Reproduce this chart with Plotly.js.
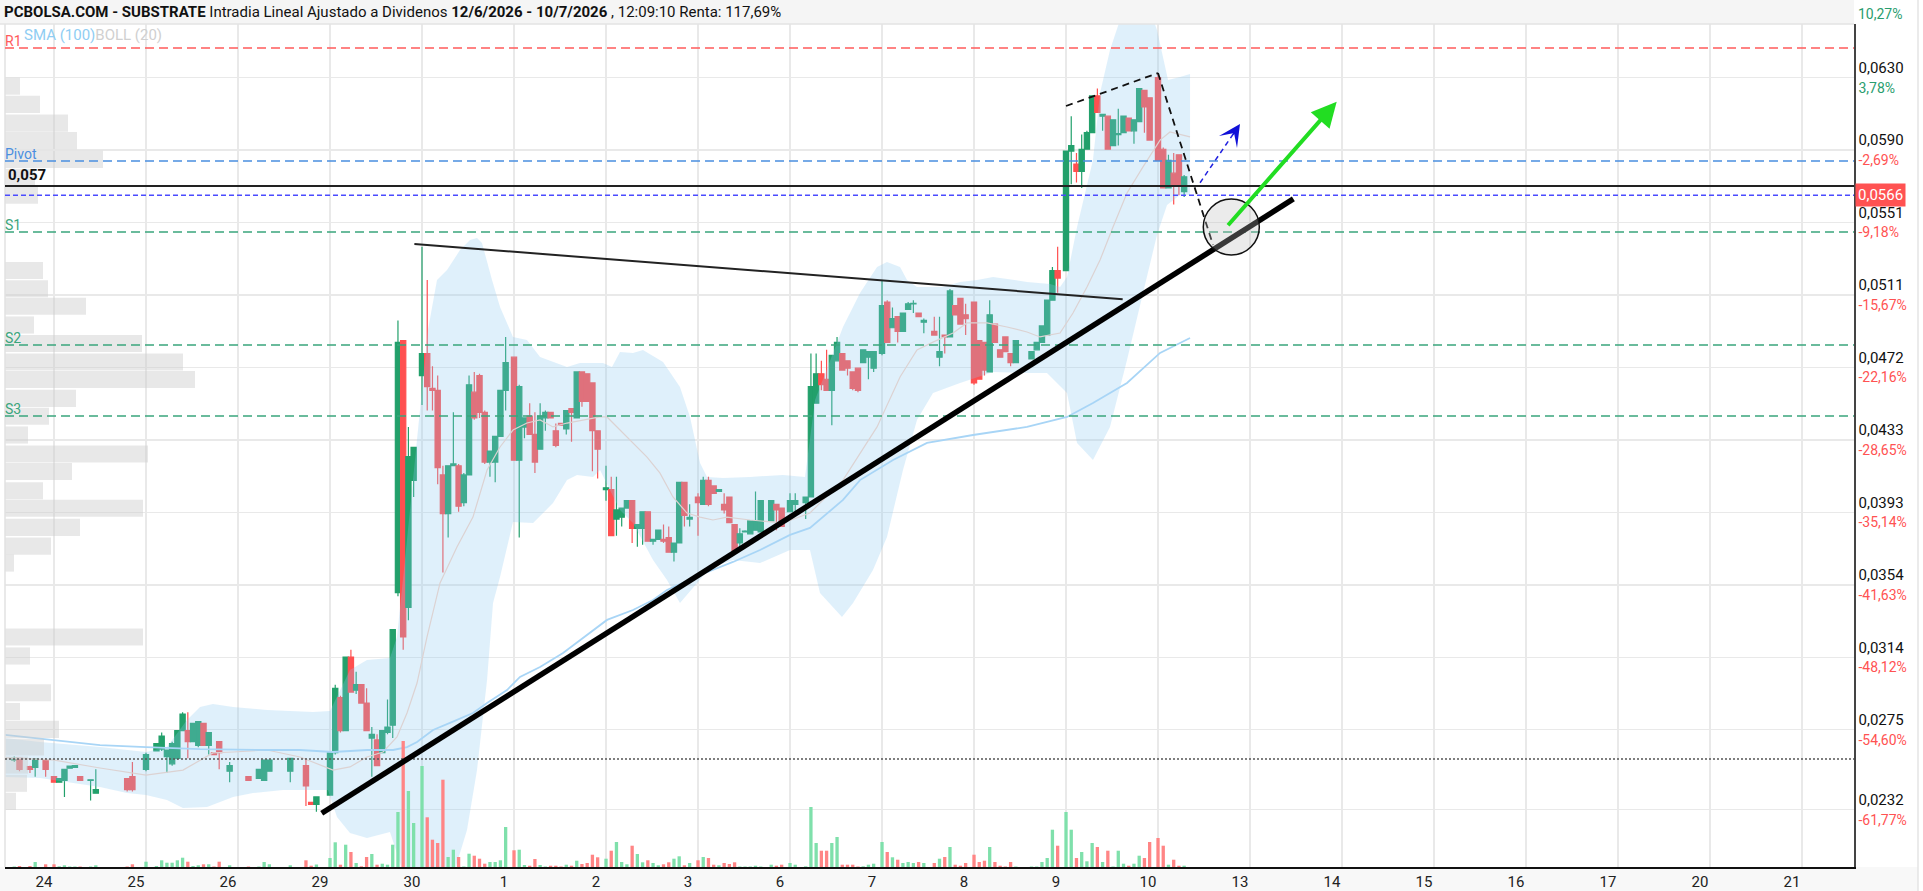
<!DOCTYPE html>
<html><head><meta charset="utf-8">
<script src="https://cdn.plot.ly/plotly-3.0.1.min.js"></script>
<style>html,body{margin:0;padding:0;background:#fff;}#chart{width:1923px;height:891px;}</style>
</head><body><div id="chart"></div>
<script>
// ---------------- DATA ----------------
const sessionDays = ['23','24','25','26','29','30','1','2','3','6','7','8','9','10'];
const axisDays = ['24','25','26','29','30','1','2','3','6','7','8','9','10','13','14','15','16','17','20','21'];
const SLOTS_PER_DAY = 17.6;

const barDay = [
 '23','23','23','23','23',
 '24','24','24','24','24','24','24','24','24','24',
 '25','25','25','25','25','25','25','25','25','25','25','25','25','25','25',
 '26','26','26','26','26','26','26','26',
 '29','29','29','29','29','29','29','29','29','29','29','29','29','29','29','29','29',
 '30','30','30','30','30','30','30','30','30','30','30','30','30','30','30','30','30',
 '1','1','1','1','1','1','1','1','1','1','1','1','1','1','1','1','1',
 '2','2','2','2','2','2','2','2','2','2','2','2','2','2','2','2','2',
 '3','3','3','3','3','3','3','3','3','3','3','3','3','3','3','3',
 '6','6','6','6','6','6','6','6','6','6','6','6','6','6','6','6',
 '7','7','7','7','7','7','7','7','7','7','7','7','7','7','7','7',
 '8','8','8','8','8','8','8','8','8','8','8','8','8','8','8',
 '9','9','9','9','9','9','9','9','9','9','9','9','9','9','9','9','9',
 '10','10','10','10','10','10'];
const barSlot = [
 10,11,13,14,16,
 0,1,2,3,4,5,7,8,14,15,
 0,2,3,4,5,6,7,8,9,10,11,12,13,14,16,
 2,4,5,6,10,13,14,15,
 0,1,2,3,4,5,6,7,8,9,10,11,12,13,14,15,16,
 0,1,2,3,4,5,6,7,8,9,10,11,12,13,14,15,16,
 0,1,2,3,4,5,6,7,8,9,10,11,12,13,14,15,16,
 0,1,2,3,4,5,6,7,8,9,10,11,12,13,14,15,16,
 0,1,2,3,4,5,6,7,8,9,10,11,12,14,15,16,
 0,1,3,4,5,6,7,8,9,10,11,12,13,14,15,16,
 0,1,2,3,4,5,6,7,8,10,11,12,13,14,15,16,
 0,1,2,3,4,5,6,7,8,11,12,13,14,15,16,
 0,1,2,3,4,5,6,7,8,9,10,11,12,13,14,15,16,
 0,1,2,3,4,5];
const barOpen = [
 .0259,.0260,.02555,.0255,.0259,
 .0250,.0247,.0248,.02546,.0255,.0250,.0248,.0241,.0249,.0250,
 .0254,.0264,.0265,.02609,.0257,.0260,.0275,.0275,.0269,.0267,.0279,.0267,.0263,.0269,.0253,
 .0250,.0249,.0248,.0253,.0253,.0256,.0236,.0235,
 .0240,.0263,.0293,.0275,.0315,.0297,.0300,.0290,.0271,.0270,.0263,.0274,.0278,.0350,.0487,.0342,.0411,
 .0468,.0480,.0461,.0460,.0414,.0393,.0419,.0419,.0399,.0414,.0459,.0468,.0448,.0421,.0421,.0435,.0460,
 .0478,.0422,.0440,.0446,.0436,.0428,.0445,.0448,.0438,.0442,.0439,.0450,.0445,.0470,.0469,.0464,.0438,
 .0406,.0406,.0390,.0391,.0396,.0400,.0385,.0385,.0394,.0378,.0379,.0379,.0380,.0372,.0377,.0410,.0390,
 .0402,.0398,.0411,.0408,.0405,.0398,.0402,.0387,.0377,.0383,.0382,.0384,.0383,.0389,.0398,.0396,
 .0394,.0398,.0399,.0402,.0453,.0469,.0466,.0460,.0476,.0480,.0476,.0470,.0472,.0475,.0478,.0472,
 .0480,.0508,.0494,.0500,.0492,.0504,.0507,.0502,.0497,.0492,.0478,.0490,.0489,.0506,.0510,.0501,
 .0508,.0487,.0486,.0470,.0496,.0482,.0489,.0480,.0475,.0477,.0482,.0486,.0490,.0509,.0525,
 .0525,.0590,.0583,.0579,.0591,.0600,.0620,.0609,.0609,.0593,.0599,.0600,.0608,.0601,.0606,.0623,.0619,
 .0630,.0591,.0570,.0578,.0588,.0568];
const barHigh = [
 .0261,.0260,.0256,.0260,.0260,
 .0250,.0249,.0254,.0256,.0256,.0250,.0248,.0254,.0249,.0258,
 .0263,.0268,.0274,.02645,.0269,.0275,.0285,.0285,.0279,.0280,.0279,.0274,.0263,.0269,.0258,
 .0250,.0254,.0259,.0259,.0260,.0260,.0236,.0239,
 .0263,.0300,.0294,.0315,.0319,.0307,.0300,.0298,.0277,.0273,.0275,.0292,.0330,.0498,.0487,.0440,.0429,
 .0538,.0520,.0473,.0468,.0419,.0419,.0448,.0420,.0415,.0468,.0470,.0469,.0449,.0427,.0435,.0460,.0489,
 .0478,.0463,.0445,.0453,.0448,.0453,.0449,.0448,.0442,.0442,.0449,.0450,.0470,.0470,.0469,.0464,.0438,
 .0419,.0413,.0413,.0396,.0400,.0400,.0387,.0394,.0394,.0379,.0384,.0387,.0386,.0377,.0410,.0410,.0398,
 .0404,.0413,.0413,.0408,.0406,.0404,.0402,.0387,.0385,.0384,.0389,.0405,.0400,.0400,.0398,.0396,
 .0404,.0404,.0402,.0480,.0480,.0476,.0482,.0479,.0489,.0480,.0476,.0470,.0472,.0482,.0481,.0481,
 .0520,.0509,.0505,.0500,.0502,.0508,.0509,.0502,.0499,.0500,.0500,.0490,.0515,.0506,.0510,.0507,
 .0508,.0487,.0486,.0509,.0496,.0482,.0489,.0480,.0487,.0481,.0486,.0495,.0509,.0527,.0538,
 .0590,.0609,.0589,.0599,.0601,.0620,.0624,.0610,.0609,.0607,.0613,.0609,.0608,.0607,.0624,.0623,.0619,
 .0632,.0592,.0588,.0589,.0588,.0577];
const barLow = [
 .0258,.0253,.0252,.0250,.0250,
 .0247,.0247,.0239,.02546,.0255,.0248,.0237,.0241,.0242,.0242,
 .0253,.0264,.0264,.0252,.0256,.0259,.0275,.0260,.0269,.0266,.0267,.0262,.0262,.0254,.0247,
 .0248,.0249,.0248,.0253,.0247,.0234,.0235,.0231,
 .0240,.0262,.0274,.0275,.0296,.0295,.0290,.0275,.0250,.0256,.0263,.0273,.0271,.0348,.0319,.0335,.0402,
 .0452,.0449,.0449,.0409,.0361,.0380,.0419,.0394,.0397,.0414,.0444,.0445,.0420,.0413,.0410,.0435,.0449,
 .0422,.0380,.0434,.0436,.0415,.0428,.0438,.0445,.0429,.0441,.0436,.0432,.0445,.0451,.0454,.0416,.0412,
 .0400,.0381,.0381,.0386,.0396,.0377,.0375,.0376,.0378,.0376,.0379,.0377,.0372,.0367,.0377,.0386,.0386,
 .0381,.0398,.0397,.0404,.0405,.0393,.0388,.0373,.0374,.0383,.0382,.0384,.0383,.0389,.0384,.0386,
 .0394,.0394,.0390,.0402,.0453,.0460,.0460,.0441,.0476,.0471,.0468,.0460,.0459,.0475,.0466,.0470,
 .0479,.0486,.0494,.0486,.0492,.0504,.0502,.0500,.0491,.0490,.0473,.0480,.0489,.0501,.0496,.0490,
 .0463,.0466,.0468,.0470,.0486,.0478,.0481,.0473,.0475,.0477,.0482,.0486,.0490,.0509,.0513,
 .0525,.0572,.0573,.0570,.0591,.0600,.0611,.0601,.0591,.0593,.0593,.0600,.0601,.0594,.0606,.0600,.0596,
 .0585,.0570,.0570,.0561,.0566,.0565];
const barClose = [
 .0260,.0254,.0254,.02595,.0254,
 .0247,.0249,.0254,.02558,.0256,.0248,.02483,.0243,.0243,.0243,
 .0262,.0268,.0272,.02645,.0268,.0275,.0284,.0269,.0279,.0280,.0267,.0274,.0262,.0263,.0256,
 .0248,.0254,.0259,.0259,.0260,.0245,.0235,.0239,
 .0263,.0298,.0275,.0315,.0296,.0300,.0290,.0275,.0273,.0256,.0275,.0277,.0330,.0486,.0326,.0424,.0429,
 .0480,.0462,.0460,.0418,.0393,.0419,.0420,.0397,.0414,.0463,.0445,.0448,.0421,.0427,.0435,.0460,.0475,
 .0422,.0462,.0445,.0436,.0421,.0446,.0448,.0445,.0430,.0441,.0449,.0448,.0470,.0454,.0454,.0438,.0428,
 .0407,.0381,.0395,.0396,.0400,.0385,.0387,.0394,.0378,.0379,.0384,.0378,.0372,.0377,.0410,.0392,.0391,
 .0399,.0411,.0398,.0404,.0406,.0395,.0388,.0373,.0382,.03835,.0389,.0389,.0400,.0400,.0395,.0386,
 .0400,.0400,.0402,.0462,.0469,.0463,.0460,.0479,.0486,.0471,.0472,.0461,.0460,.0482,.0481,.0481,
 .0506,.0486,.0499,.0492,.0502,.0507,.05072,.0500,.0498,.0490,.0481,.0489,.0514,.0501,.0496,.0499,
 .0464,.0466,.0471,.0501,.0486,.0478,.0481,.0475,.0487,.0481,.0486,.0495,.0509,.0525,.0521,
 .0590,.0593,.0579,.0591,.0600,.0620,.0611,.0610,.0591,.0607,.05995,.0609,.0601,.0607,.0624,.0614,.0596,
 .0585,.0570,.0585,.0571,.0571,.0576];
// volume, thousands of shares
const barVolume = [
 5,10,10,50,27,
 27,7,17,5,5,5,5,17,5,27,
 53,10,67,43,43,67,93,53,10,17,27,27,5,53,17,
 5,5,50,27,17,67,13,25,
 90,247,23,223,150,40,7,100,130,23,33,23,223,550,1260,760,440,
 1010,497,273,240,873,100,173,100,5,133,113,83,33,50,50,67,400,
 167,173,20,13,80,20,5,13,13,5,23,13,63,30,40,123,97,
 83,163,250,50,27,213,130,47,67,40,17,27,47,83,107,17,40,
 67,100,90,23,17,40,30,47,5,5,5,13,5,23,13,23,
 40,23,7,600,240,163,163,240,300,23,23,23,5,7,23,33,
 250,150,97,73,40,50,40,50,40,40,83,100,200,23,13,40,
 123,50,63,200,50,13,5,50,5,5,5,50,90,373,213,
 550,373,90,150,57,240,200,50,163,5,163,33,13,33,113,90,250,
 290,213,23,73,13,13];

// Bollinger (20) upper / lower / middle and SMA(100): x in trading days from "24"
const bollUpperX = [-0.533,-0.152,0.5,1.0,1.228,1.446,1.587,1.728,1.946,2.315,2.815,3.0,3.217,3.402,3.652,3.728,3.815,3.946,4.065,4.163,4.272,4.413,4.522,4.598,4.652,4.761,4.848,4.989,5.141,5.283,5.576,5.717,5.967,6.065,6.152,6.293,6.402,6.62,6.804,6.913,7.022,7.098,7.272,7.565,7.924,8.163,8.272,8.576,8.761,8.946,9.054,9.196,9.272,9.38,9.663,9.848,10.033,10.207,10.424,10.576,10.826,10.935,11.011,11.12,11.293,11.37,11.478,11.587,11.75,11.913,11.989,12.054,12.109,12.239,12.348];
const bollUpper = [.0271,.02688,.02661,.02634,.02661,.02808,.02879,.02895,.02879,.02862,.02852,.02857,.0308,.03134,.03145,.03259,.03678,.04314,.04928,.05199,.05254,.05362,.05417,.05428,.05401,.05199,.05053,.0489,.04873,.04781,.04727,.04748,.04748,.04727,.04808,.04803,.04819,.04754,.04618,.04455,.04205,.04129,.04123,.04129,.0414,.04129,.04547,.04944,.05129,.0527,.05297,.0527,.05199,.05161,.05161,.05189,.05199,.05216,.05199,.05189,.05178,.05161,.05216,.05487,.05852,.06216,.06449,.06613,.06694,.06667,.06558,.06411,.06286,.06303,.06319];
const bollLowerX = [-0.533,-0.152,0.5,0.793,1.0,1.228,1.402,1.663,1.946,2.163,2.489,2.978,3.076,3.217,3.402,3.652,3.761,3.87,4.087,4.25,4.38,4.489,4.598,4.707,4.772,4.848,4.989,5.207,5.424,5.576,5.685,5.859,5.935,6.043,6.152,6.293,6.511,6.663,6.804,6.913,7.13,7.38,7.674,8.0,8.217,8.326,8.565,8.685,8.902,9.054,9.228,9.38,9.554,9.848,10.207,10.576,10.793,11.011,11.12,11.293,11.478,11.663,11.837,11.989,12.098,12.239,12.348];
const bollLower = [.02498,.02493,.02444,.02411,.024,.02373,.0233,.02335,.0239,.02411,.02428,.02428,.02281,.02194,.02167,.02199,.02031,.0183,.0156,.0172,.02031,.0221,.02536,.03025,.03444,.03585,.03884,.03879,.03987,.04112,.0414,.04129,.04167,.04058,.03949,.03879,.03678,.03569,.03444,.03504,.03634,.03678,.03661,.03732,.03732,.03498,.03368,.03444,.03623,.03803,.04167,.04439,.04585,.0464,.04699,.04694,.04694,.04585,.04314,.04221,.04401,.04765,.05129,.05444,.05607,.05661,.05661];
const bollMidX = [-0.533,-0.011,0.5,1.0,1.402,1.728,1.946,2.315,2.674,3.033,3.217,3.402,3.576,3.728,3.837,3.946,4.054,4.196,4.38,4.554,4.707,4.848,4.989,5.141,5.283,5.424,5.576,5.75,5.935,6.011,6.152,6.293,6.446,6.587,6.728,6.88,7.022,7.163,7.315,7.565,7.924,8.217,8.576,8.946,9.196,9.38,9.554,9.772,9.924,10.141,10.359,10.576,10.717,10.935,11.076,11.228,11.37,11.511,11.663,11.837,12.022,12.13,12.348];
const bollMid = [.02602,.02591,.02547,.02509,.02536,.02629,.02634,.02645,.02607,.02536,.02553,.02607,.02634,.02716,.02846,.03009,.03259,.03553,.03748,.03911,.04167,.04292,.04384,.04422,.04439,.04401,.04422,.04439,.04455,.04455,.04384,.04314,.04237,.0415,.0402,.03933,.03911,.03895,.03911,.03895,.03879,.03933,.04112,.04401,.04672,.04819,.04862,.04911,.04966,.04966,.04944,.04917,.0489,.04911,.0502,.05161,.05308,.05487,.05672,.05814,.0596,.06004,.05977];
const sma100X = [-0.533,-0.011,0.5,1.0,1.587,2.315,2.674,3.033,3.402,3.685,3.837,3.946,4.12,4.304,4.554,4.707,4.924,5.065,5.283,5.533,5.717,6.011,6.293,6.511,6.663,7.022,7.38,7.674,8.0,8.217,8.576,8.761,9.12,9.489,9.989,10.576,11.011,11.293,11.663,12.022,12.348];
const sma100 = [.02727,.02699,.02672,.02661,.0265,.02645,.02645,.02634,.02645,.02645,.02661,.02688,.02754,.02792,.02846,.029,.02971,.03042,.03096,.03172,.03243,.03352,.03406,.0346,.03515,.03596,.03667,.03732,.03814,.03852,.04004,.04112,.04221,.04314,.04357,.04401,.04455,.04531,.0464,.04803,.04884];

// Volume-at-price profile (left edge)
const profPrice = [.06253,.06154,.06052,.05957,.05855,.05757,.05661,.05251,.05152,.05057,.04955,.04854,.04754,.04659,.04556,.04459,.04357,.04254,.04159,.04054,.03959,.03855,.03753,.03661,.03259,.03156,.02956,.02854,.02757,.02661,.02563,.02464,.02366];
const profVolume = [150,350,630,720,980,300,330,380,430,810,290,1370,1780,1900,710,440,230,1430,670,380,1380,750,460,90,1380,250,460,150,540,390,230,220,110];

// Price axis ticks
const tickPrice = [0.0630,0.05907,0.05513,0.05119,0.04725,0.04331,0.03937,0.03543,0.03149,0.02756,0.02321];
const tickPriceText = ['0,0630','0,0590','0,0551','0,0511','0,0472','0,0433','0,0393','0,0354','0,0314','0,0275','0,0232'];
const tickPctText = ['3,78%','-2,69%','-9,18%','-15,67%','-22,16%','-28,65%','-35,14%','-41,63%','-48,12%','-54,60%','-61,77%'];
const topPctText = '10,27%';

// Levels
const levelNames = ['R1','Pivot','S1','S2','S3'];
const levelValues = [0.0646,0.05846,0.0546,0.04846,0.0446];
const levelColors = ['#ff5b5b','#4a8fe0','#3aa57c','#3aa57c','#3aa57c'];
const resistanceLine = 0.0571;
const resistanceText = '0,057';
const lastPrice = 0.0566;
const lastPriceText = '0,0566';
const refLine = 0.02596;

// Hand drawings (x in trading days, y price)
const supportTrend = {x:[2.91,13.471], y:[0.02301,0.0564]};
const triangleTop = {x:[3.917,11.616], y:[0.05395,0.05095]};
const wedgeDash = {x:[11.0,12.0,12.598], y:[0.06145,0.06324,0.0539]};
const blueArrow = {x:[12.457,12.891], y:[0.05728,0.06047]};
const greenArrow = {x:[12.747,13.942], y:[0.05489,0.06168]};
const circleBox = {x:[12.492,13.101], y:[0.05335,0.0564]};

const titleText = '<b>PCBOLSA.COM - SUBSTRATE</b> Intradia Lineal Ajustado a Dividenos <b>12/6/2026 - 10/7/2026</b> , 12:09:10 Renta: 117,69%';

// ---------------- BUILD ----------------
const FONT = 'Roboto, "Open Sans", sans-serif';
const GREEN = '#22a06b', RED = '#ff5050';
const barX = barDay.map((d,i) => (sessionDays.indexOf(d) - 1) + barSlot[i] / SLOTS_PER_DAY);
const volColors = barOpen.map((o,i) => barClose[i] >= o ? '#7fe0ab' : '#ff8585');

const traces = [];
traces.push({type:'scatter', mode:'lines',
  x: bollUpperX.concat(bollLowerX.slice().reverse()),
  y: bollUpper.concat(bollLower.slice().reverse()),
  fill:'toself', fillcolor:'rgba(140,200,242,0.28)', line:{width:0,color:'rgba(0,0,0,0)'}, hoverinfo:'skip'});
traces.push({type:'scatter', mode:'lines', x:bollMidX, y:bollMid, line:{color:'#dcd2d2', width:1.2}, hoverinfo:'skip'});
traces.push({type:'scatter', mode:'lines', x:sma100X, y:sma100, line:{color:'#a8d5f6', width:1.8}, hoverinfo:'skip'});
traces.push({type:'candlestick', x:barX, open:barOpen, high:barHigh, low:barLow, close:barClose,
  increasing:{line:{color:GREEN,width:1.2}, fillcolor:GREEN},
  decreasing:{line:{color:RED,width:1.2}, fillcolor:RED},
  whiskerwidth:0, hoverinfo:'skip'});
traces.push({type:'bar', x:barX, y:barVolume, yaxis:'y2', width:0.036, marker:{color:volColors, line:{width:0}}, hoverinfo:'skip'});
traces.push({type:'bar', orientation:'h', x:profVolume, y:profPrice, xaxis:'x2', width:0.00093,
  marker:{color:'rgba(205,205,205,0.45)', line:{width:0}}, hoverinfo:'skip'});

const yTickText = tickPriceText.map((t,i) => {
  const c = tickPctText[i].charAt(0) === '-' ? '#ff5252' : '#2a9d6e';
  return '<span style="color:#111">' + t + '</span><br><span style="color:' + c + ';font-size:14px">' + tickPctText[i] + '</span>';
});

const PX = 1849, PY = 843; // plot size
const padL = -5/PX, padR = (1918-5)/PX, topBar = 1 + 24/PY, botBand = -24/PY;

const shapes = [
  {type:'rect', xref:'paper', yref:'paper', x0:padL, x1:1, y0:1, y1:topBar, fillcolor:'#f5f5f5', line:{width:0}, layer:'below'},
  {type:'line', xref:'paper', yref:'paper', x0:padL, x1:1, y0:1, y1:1, line:{color:'#e3e3e3', width:1.5}},
  {type:'rect', xref:'paper', yref:'paper', x0:padL, x1:padR, y0:botBand, y1:0, fillcolor:'#f8f8f8', line:{width:0}, layer:'below'},
  {type:'line', xref:'paper', yref:'paper', x0:padR, x1:padR, y0:botBand, y1:topBar, line:{color:'#e4e4e4', width:1.5}},
  {type:'line', xref:'paper', yref:'paper', x0:0, x1:0, y0:0, y1:1, line:{color:'#e2e2e2', width:1.5}},
];
levelValues.forEach((v,i) => shapes.push({type:'line', xref:'paper', yref:'y', x0:0, x1:1, y0:v, y1:v,
  line:{color:levelColors[i], width:1.5, dash:'9px,5px'}}));
shapes.push({type:'line', xref:'paper', yref:'y', x0:0, x1:1, y0:resistanceLine, y1:resistanceLine, line:{color:'#222', width:2}});
shapes.push({type:'line', xref:'paper', yref:'y', x0:0, x1:1, y0:lastPrice, y1:lastPrice, line:{color:'#4b4bff', width:1.5, dash:'5px,3px'}});
shapes.push({type:'line', xref:'paper', yref:'y', x0:0, x1:1, y0:refLine, y1:refLine, line:{color:'#555', width:1.5, dash:'2px,2px'}});
shapes.push({type:'line', xref:'x', yref:'y', x0:triangleTop.x[0], x1:triangleTop.x[1], y0:triangleTop.y[0], y1:triangleTop.y[1], line:{color:'#222', width:2}});
shapes.push({type:'line', xref:'x', yref:'y', x0:supportTrend.x[0], x1:supportTrend.x[1], y0:supportTrend.y[0], y1:supportTrend.y[1], line:{color:'#000', width:5.5}});
for (let i=0;i<wedgeDash.x.length-1;i++) shapes.push({type:'line', xref:'x', yref:'y', x0:wedgeDash.x[i], x1:wedgeDash.x[i+1], y0:wedgeDash.y[i], y1:wedgeDash.y[i+1], line:{color:'#111', width:1.8, dash:'7px,5px'}});
shapes.push({type:'circle', xref:'x', yref:'y', x0:circleBox.x[0], x1:circleBox.x[1], y0:circleBox.y[0], y1:circleBox.y[1], fillcolor:'rgba(190,190,190,0.3)', line:{color:'#111', width:1.5}});
shapes.push({type:'line', xref:'x', yref:'y', x0:blueArrow.x[0], x1:blueArrow.x[1], y0:blueArrow.y[0], y1:blueArrow.y[1], line:{color:'#2020e0', width:1.5, dash:'5px,4px'}});

const annotations = [
  {xref:'paper', yref:'paper', x:padL, y:1 + 12/PY, xanchor:'left', yanchor:'middle', xshift:2, showarrow:false,
   text:titleText, font:{family:FONT, size:15, color:'#111'}},
  {xref:'paper', yref:'paper', x:0, y:1 - 11/PY, xanchor:'left', yanchor:'middle', xshift:17, showarrow:false,
   text:'<span style="color:#8fcdf3">SMA (100)</span><span style="color:#d0d0d0">BOLL (20)</span>', font:{family:FONT, size:15}},
  {xref:'paper', yref:'paper', x:1, y:1 + 10/PY, xanchor:'left', yanchor:'middle', xshift:2, showarrow:false,
   text:topPctText, font:{family:FONT, size:14, color:'#2a9d6e'}},
  {xref:'paper', yref:'y', x:1, y:lastPrice, xanchor:'left', yanchor:'middle', xshift:1, showarrow:false,
   text:lastPriceText, bgcolor:'#ff5252', borderpad:2, font:{family:FONT, size:15, color:'#fff'}},
  {xref:'paper', yref:'y', x:0, y:resistanceLine, xanchor:'left', yanchor:'middle', xshift:1, yshift:11, showarrow:false,
   text:'<b>' + resistanceText + '</b>', font:{family:FONT, size:15, color:'#111'}},
  {xref:'x', yref:'y', x:greenArrow.x[1], y:greenArrow.y[1], ax:greenArrow.x[0], ay:greenArrow.y[0], axref:'x', ayref:'y',
   showarrow:true, arrowhead:2, arrowsize:1.25, arrowwidth:4, arrowcolor:'#22dd22', text:''},
  {xref:'x', yref:'y', x:blueArrow.x[1], y:blueArrow.y[1], ax:-8, ay:12,
   showarrow:true, arrowhead:3, arrowsize:2.4, arrowwidth:1.5, arrowcolor:'#1010d8', text:''},
];
levelNames.forEach((n,i) => annotations.push({xref:'paper', yref:'y', x:0, y:levelValues[i], xanchor:'left', yanchor:'middle',
  xshift:-2, yshift:7, showarrow:false, text:n, font:{family:FONT, size:14, color:levelColors[i]}}));

const layout = {
  width:1923, height:891,
  margin:{l:5, r:69, t:24, b:24, pad:0},
  paper_bgcolor:'#ffffff', plot_bgcolor:'rgba(0,0,0,0)',
  showlegend:false, hovermode:false, dragmode:false,
  boxgap:0, boxgroupgap:0,
  font:{family:FONT, size:14, color:'#111'},
  xaxis:{range:[-0.5326,19.565], tickmode:'array', tickvals:axisDays.map((d,i)=>i), ticktext:axisDays,
    showgrid:true, gridcolor:'#e9e9e9', gridwidth:1.5, zeroline:false, showline:true, linecolor:'#111', linewidth:1.5,
    ticks:'', ticklabelshift:-10, tickfont:{family:FONT, size:15, color:'#222'}, rangeslider:{visible:false}, fixedrange:true},
  yaxis:{range:[0.020091,0.065908], side:'right', tickmode:'array', tickvals:tickPrice, ticktext:yTickText,
    showgrid:true, gridcolor:'#e9e9e9', gridwidth:1.5, zeroline:false, showline:true, linecolor:'#444', linewidth:1.5,
    ticks:'', tickfont:{family:FONT, size:15, color:'#111'}, fixedrange:true},
  yaxis2:{overlaying:'y', range:[0,8430], visible:false, fixedrange:true},
  xaxis2:{overlaying:'x', range:[0,18490], visible:false, fixedrange:true},
  shapes:shapes, annotations:annotations
};
Plotly.newPlot('chart', traces, layout, {staticPlot:true, displayModeBar:false});
</script></body></html>
